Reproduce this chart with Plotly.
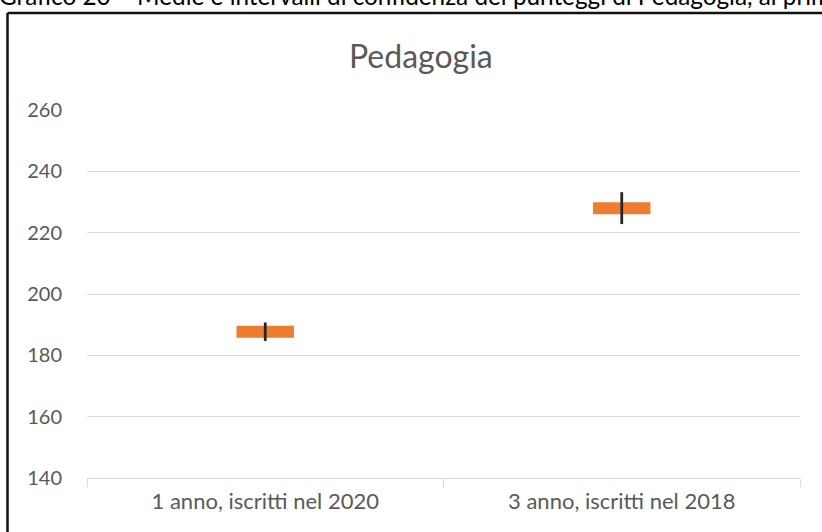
import plotly.graph_objects as go

# ---- data ----
categories = ["1 anno, iscritti nel 2020", "3 anno, iscritti nel 2018"]
means = [187.7, 228.0]
ci_half = [3.0, 5.2]
y_ticks = [140, 160, 180, 200, 220, 240, 260]
chart_title = "Pedagogia"
caption = "Grafico 20 – Medie e intervalli di confidenza dei punteggi di Pedagogia, al primo"

# ---- layout geometry (pixels) ----
W, H = 822, 532
L, R, T, B = 87, 22, 110, 54
pw, ph = W - L - R, H - T - B


def px_x(x):
    return (x - L) / pw


def px_y(y):
    return (H - B - y) / ph


font_family = "Lato, 'Open Sans', sans-serif"
grey_text = "#595959"
grid = "#d9d9d9"

fig = go.Figure()
fig.add_trace(go.Scatter(
    x=categories, y=means, mode="markers",
    marker=dict(symbol="line-ew", size=41, color="#ED7D31",
                line=dict(color="#ED7D31", width=12)),
    hoverinfo="skip", showlegend=False,
))
fig.add_trace(go.Scatter(
    x=categories, y=means, mode="markers",
    marker=dict(size=1, opacity=0),
    error_y=dict(type="data", array=ci_half, visible=True,
                 color="#262626", thickness=2.8, width=0),
    hoverinfo="skip", showlegend=False,
))

fig.update_layout(
    width=W, height=H,
    margin=dict(l=L, r=R, t=T, b=B, pad=0),
    paper_bgcolor="white", plot_bgcolor="white",
    font=dict(family=font_family, color=grey_text, size=20),
    showlegend=False,
    xaxis=dict(
        type="category", range=[-0.5, 1.5],
        showgrid=False, showline=True, linecolor=grid, linewidth=1,
        ticks="outside", tickson="boundaries", ticklen=8, tickcolor=grid,
        tickfont=dict(size=22, color=grey_text),
        ticklabelstandoff=4,
        zeroline=False, fixedrange=True,
    ),
    yaxis=dict(
        range=[140, 260], tickvals=y_ticks,
        showgrid=True, gridcolor=grid, gridwidth=1,
        showline=False, zeroline=False, ticks="",
        tickfont=dict(size=20, color=grey_text),
        ticklabelstandoff=24, fixedrange=True,
    ),
    annotations=[
        dict(text=chart_title, xref="paper", yref="paper",
             x=px_x(421), y=px_y(56), xanchor="center", yanchor="middle",
             showarrow=False, font=dict(size=32, color=grey_text, family=font_family)),
        dict(text=caption, xref="paper", yref="paper",
             x=px_x(-3), y=px_y(-5), xanchor="left", yanchor="middle",
             showarrow=False, font=dict(size=24.3, color="#000000", family=font_family)),
    ],
    shapes=[
        dict(type="line", xref="paper", yref="paper",
             x0=px_x(7.5), x1=px_x(7.5), y0=px_y(13), y1=px_y(545),
             line=dict(color="#111111", width=2.5)),
        dict(type="line", xref="paper", yref="paper",
             x0=px_x(7.5), x1=px_x(840), y0=px_y(13), y1=px_y(13),
             line=dict(color="#111111", width=2.5)),
    ],
)

fig.write_html(
    "out.html",
    config={"displayModeBar": False},
    post_script="document.body.style.margin='0';document.body.style.overflow='hidden';",
)
